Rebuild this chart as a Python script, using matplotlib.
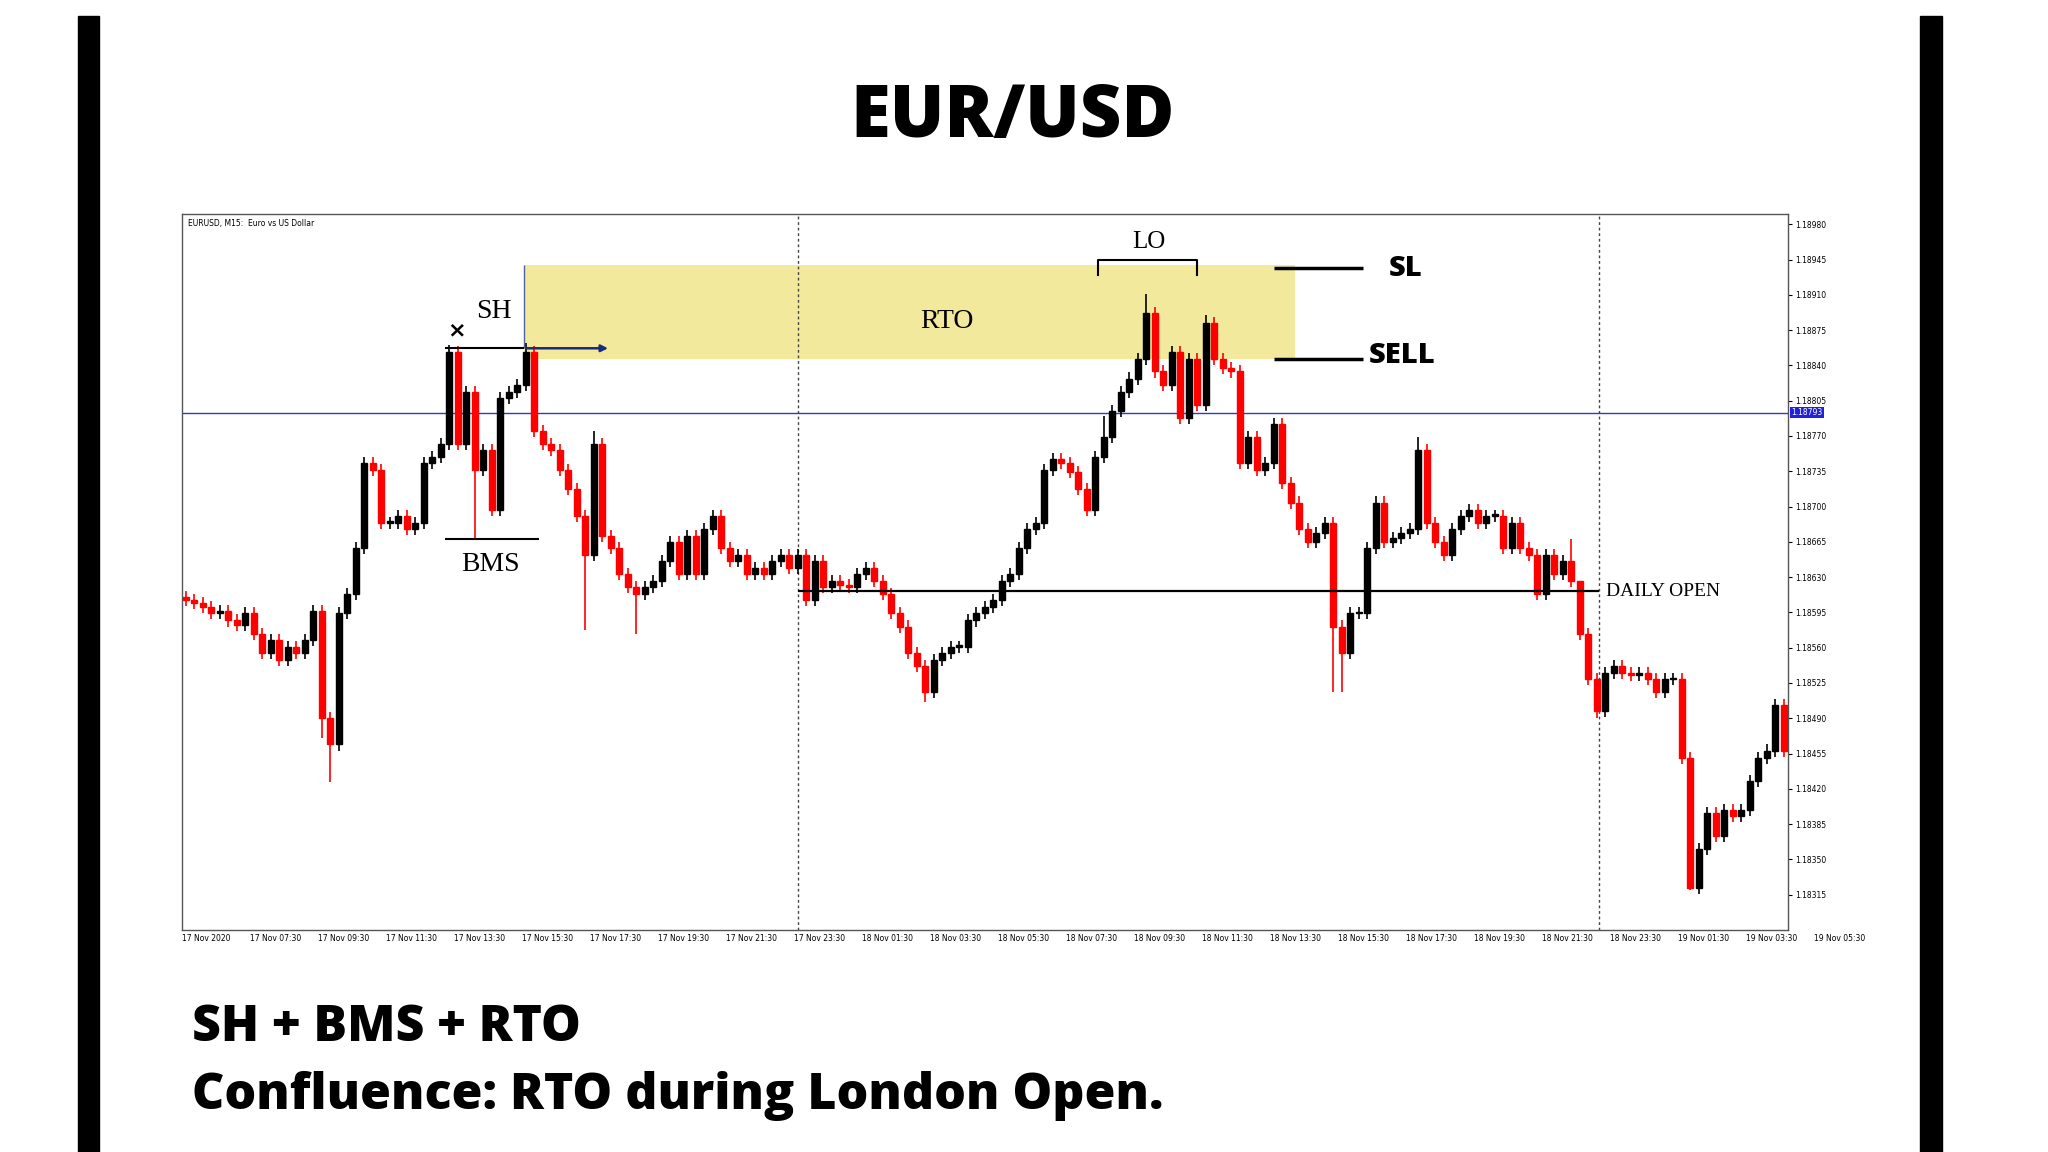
import matplotlib
matplotlib.use("Agg")
import matplotlib.pyplot as plt
from matplotlib.patches import Rectangle

W, H = 1568.0, 882.0
def F(x, y):
    return x / W, 1 - y / H

closes_pts = [607,604,600,594,596,587,583,594,574,555,568,548,561,555,568,596,490,464,594,613,
              659,743,736,684,684,691,678,684,743,749,762,853,762,814,736,756,697,808,814,821,
              853,775,762,756,736,717,691,652,762,671,659,633,620,613,620,626,646,665,633,671,
              633,678,691,659,646,652,633,639,633,646,652,639,652,607,646,620,626,622,620,633,
              639,626,613,594,581,555,542,516,548,555,561,561,587,594,600,607,626,633,659,678,
              684,736,747,743,734,717,697,749,769,795,814,827,846,892,834,821,853,788,846,801,
              882,846,837,834,743,769,736,743,782,723,704,678,665,674,684,581,555,594,594,659,
              704,665,669,674,678,756,684,665,652,678,691,697,684,691,691,659,684,659,652,613,
              652,633,646,626,574,529,497,535,542,535,533,535,529,516,529,529,451,322,360,396,
              373,399,393,399,428,451,458,503,458,454,432]
closes = [1.18 + p / 100000 for p in closes_pts]
first_open = 1.18610
wick_high = {31: 1.18860, 40: 1.18862, 48: 1.18775, 113: 1.18911, 120: 1.18890, 145: 1.18769,
             163: 1.18668, 108: 1.18790, 18: 1.18600, 164: 1.18580}
wick_low = {17: 1.18427, 47: 1.18578, 53: 1.18574, 87: 1.18506, 135: 1.18516, 136: 1.18516,
            166: 1.18490, 177: 1.18320, 34: 1.18668, 16: 1.18470}
default_wick = 0.00006

x_labels = ["17 Nov 2020","17 Nov 07:30","17 Nov 09:30","17 Nov 11:30","17 Nov 13:30","17 Nov 15:30",
            "17 Nov 17:30","17 Nov 19:30","17 Nov 21:30","17 Nov 23:30","18 Nov 01:30","18 Nov 03:30",
            "18 Nov 05:30","18 Nov 07:30","18 Nov 09:30","18 Nov 11:30","18 Nov 13:30","18 Nov 15:30",
            "18 Nov 17:30","18 Nov 19:30","18 Nov 21:30","18 Nov 23:30","19 Nov 01:30","19 Nov 03:30",
            "19 Nov 05:30"]
y_ticks = [1.18315 + 0.00035 * k for k in range(20)]
current_price = 1.18793
daily_open = 1.18616
zone_top, zone_bottom = 1.18940, 1.18846
sh_level = 1.18857
bms_level = 1.18668

fig = plt.figure(figsize=(20.48, 11.52), dpi=100)
fig.patch.set_facecolor("white")
x0, y0 = F(139, 712)
x1, y1 = F(1369, 164)
ax = fig.add_axes([x0, y0, x1 - x0, y1 - y0])
ax.set_xlim(0, 189)
ax.set_ylim(1.18280, 1.18990)

n = len(closes)
prev = first_open
for i in range(n):
    o, c = prev, closes[i]
    up = c >= o
    col = "black" if up else "#ff0000"
    hi = wick_high.get(i, max(o, c) + default_wick)
    lo = wick_low.get(i, min(o, c) - default_wick)
    ax.vlines(i + 0.5, lo, hi, color=col, lw=1.2, zorder=3)
    body = max(abs(c - o), 0.000012)
    ax.add_patch(Rectangle((i + 0.15, min(o, c)), 0.7, body, color=col, zorder=4))
    prev = c

ax.add_patch(Rectangle((40.3, zone_bottom), 131 - 40.3, zone_top - zone_bottom,
                       color="#f0e68c", alpha=0.85, zorder=1, lw=0))
ax.vlines(40.3, sh_level, zone_top, color="#5060a0", lw=1, zorder=5)
ax.hlines(sh_level, 31, 40.3, color="black", lw=1.5, zorder=5)
ax.annotate("", xy=(50.5, sh_level), xytext=(40.3, sh_level),
            arrowprops=dict(arrowstyle="-|>", color="#1a2a80", lw=1.8), zorder=6)
ax.hlines(bms_level, 31, 42, color="black", lw=1.5, zorder=5)
ax.hlines(current_price, 0, 189, color="#3333dd", lw=1, zorder=2)
ax.hlines(daily_open, 72.5, 166.7, color="black", lw=1.6, zorder=5)
for xv in (72.5, 166.7):
    ax.axvline(xv, color="#444444", lw=1, ls=(0, (2, 2)), zorder=2)
ax.plot([107.8, 107.8, 119.5, 119.5], [1.18930, 1.18945, 1.18945, 1.18930], color="black", lw=1.5, zorder=5)
ax.text(113.8, 1.18962, "LO", family="Liberation Serif", fontsize=18, ha="center", va="center")
ax.text(90, 1.18884, "RTO", family="Liberation Serif", fontsize=20, ha="center", va="center")
ax.text(36.7, 1.18893, "SH", family="Liberation Serif", fontsize=20, ha="center", va="center")
ax.text(32.3, 1.18875, "×", fontsize=16, fontweight="bold", ha="center", va="center")
ax.text(36.3, 1.18643, "BMS", family="Liberation Serif", fontsize=20, ha="center", va="center")
ax.text(167.6, daily_open, "DAILY OPEN", family="Liberation Serif", fontsize=14, ha="left", va="center")
ax.hlines(1.18937, 128.5, 139, color="black", lw=2.5, zorder=5)
ax.hlines(1.18846, 128.5, 139, color="black", lw=2.5, zorder=5)
ax.text(142.0, 1.18936, "SL", family="Open Sans", fontweight="heavy", fontsize=21, ha="left", va="center")
ax.text(139.7, 1.18850, "SELL", family="Open Sans", fontweight="heavy", fontsize=21, ha="left", va="center")
ax.text(0.004, 0.993, "EURUSD, M15:  Euro vs US Dollar", transform=ax.transAxes, fontsize=5.5, va="top")

ax.set_xticks([])
ax.yaxis.tick_right()
ax.set_yticks(y_ticks)
ax.set_yticklabels([f"{v:.5f}" for v in y_ticks], fontsize=5.5)
ax.tick_params(axis="y", length=3, width=0.8, pad=2)
for k, lab in enumerate(x_labels):
    ax.text(k * 8, 1.18280 - 0.00004, lab, fontsize=5.5, ha="left", va="top", clip_on=False)
ax.text(189.4, current_price, f"{current_price:.5f}", fontsize=5.5, color="white", va="center",
        ha="left", bbox=dict(boxstyle="square,pad=0.15", fc="#2222dd", ec="none"), clip_on=False)
for s in ax.spines.values():
    s.set_color("#555555"); s.set_linewidth(1)

for xa, xb in ((60, 76), (1470, 1487)):
    fx0, _ = F(xa, H)
    fig.add_artist(Rectangle((fx0, 0), (xb - xa) / W, F(0, 12)[1], transform=fig.transFigure,
                             color="black"))

fig.text(*F(775, 90), "EUR/USD", family="Open Sans", fontweight="heavy", fontsize=52, ha="center", va="center")
fig.text(*F(147, 787), "SH + BMS + RTO", family="Open Sans", fontweight="heavy", fontsize=36, ha="left", va="center")
fig.text(*F(147, 839), "Confluence: RTO during London Open.", family="Open Sans", fontweight="heavy", fontsize=36, ha="left", va="center")

fig.savefig("out.png", dpi=100)
